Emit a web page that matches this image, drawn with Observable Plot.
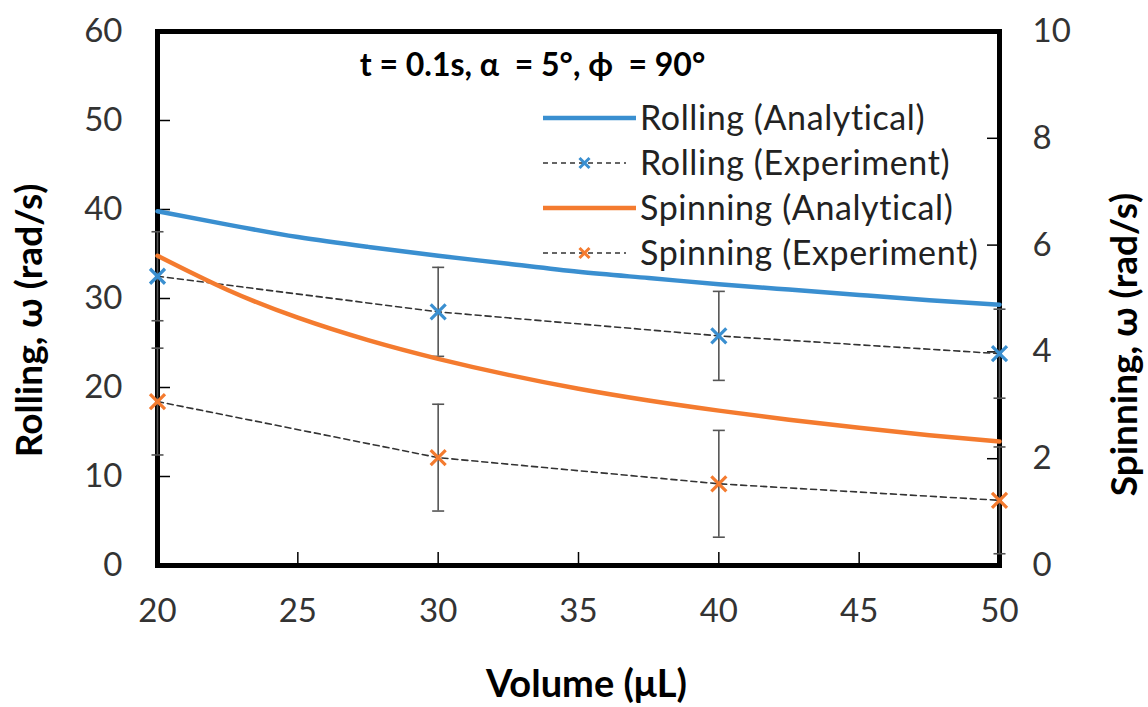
<!DOCTYPE html>
<html>
<head>
<meta charset="utf-8">
<script src="https://cdn.jsdelivr.net/npm/d3@7"></script>
<script src="https://cdn.jsdelivr.net/npm/@observablehq/plot@0.6"></script>
<style>
  body { margin: 0; background: #fff; }
  #wrap { position: relative; width: 1148px; height: 707px; font-family: Lato, "Open Sans", sans-serif; }
  #legend { position: absolute; left: 0; top: 0; pointer-events: none; }
</style>
</head>
<body>
<div id="wrap"></div>
<script>
// ---- data ----
const volumeCurve = [20, 22.5, 25, 27.5, 30, 32.5, 35, 37.5, 40, 42.5, 45, 47.5, 50];
const rollingAnalytical = [39.8, 38.3, 36.9, 35.8, 34.8, 33.9, 33.0, 32.3, 31.6, 31.0, 30.4, 29.8, 29.3]; // left axis, rad/s
const spinningAnalytical = [5.8, 5.16, 4.64, 4.22, 3.87, 3.57, 3.31, 3.09, 2.9, 2.73, 2.58, 2.44, 2.32]; // right axis, rad/s

const volumeExp = [20, 30, 40, 50];
const rollingExp = [32.5, 28.5, 25.8, 23.8];
const rollingErr = [5, 5, 5, 5];
const spinningExp = [3.07, 2.02, 1.53, 1.22];
const spinningErr = [1, 1, 1, 1];

const xTicks = [20, 25, 30, 35, 40, 45, 50];
const leftTicks = [0, 10, 20, 30, 40, 50, 60];
const rightTicks = [0, 2, 4, 6, 8, 10];
const RIGHT_TO_LEFT = 6; // right axis 0–10 maps onto left axis 0–60

const seriesNames = ["Rolling (Analytical)", "Rolling (Experiment)", "Spinning (Analytical)", "Spinning (Experiment)"];
const annotation = "t = 0.1s, α  = 5°, ϕ  = 90°";

const BLUE = "#3a8fd0";
const ORANGE = "#f47b2f";
const FONT = "Lato, 'Open Sans', sans-serif";

// ---- tables ----
const rollA = volumeCurve.map((v, i) => ({v, y: rollingAnalytical[i]}));
const spinA = volumeCurve.map((v, i) => ({v, y: spinningAnalytical[i] * RIGHT_TO_LEFT}));
const rollE = volumeExp.map((v, i) => ({v, y: rollingExp[i], lo: rollingExp[i] - rollingErr[i], hi: rollingExp[i] + rollingErr[i]}));
const spinE = volumeExp.map((v, i) => ({v, y: spinningExp[i] * RIGHT_TO_LEFT,
  lo: (spinningExp[i] - spinningErr[i]) * RIGHT_TO_LEFT, hi: (spinningExp[i] + spinningErr[i]) * RIGHT_TO_LEFT}));

const capSymbol = { draw(ctx, size) { const r = 6; ctx.moveTo(-r, 0); ctx.lineTo(r, 0); } };
const crossSymbol = { draw(ctx, size) { const r = 7.5; ctx.moveTo(-r, -r); ctx.lineTo(r, r); ctx.moveTo(-r, r); ctx.lineTo(r, -r); } };

function errorMarks(data) {
  return [
    Plot.ruleX(data, {x: "v", y1: "lo", y2: "hi", stroke: "#555", strokeWidth: 1.6}),
    Plot.dot(data, {x: "v", y: "lo", symbol: capSymbol, stroke: "#555", strokeWidth: 1.6, r: 6}),
    Plot.dot(data, {x: "v", y: "hi", symbol: capSymbol, stroke: "#555", strokeWidth: 1.6, r: 6})
  ];
}

const chart = Plot.plot({
  width: 1148,
  height: 707,
  marginLeft: 157,
  marginRight: 149,
  marginTop: 31,
  marginBottom: 142,
  style: {fontFamily: FONT, background: "#fff", color: "#333"},
  x: {domain: [20, 50]},
  y: {domain: [0, 60]},
  marks: [
    Plot.frame({stroke: "#000", strokeWidth: 5}),
    // axes with inward ticks
    Plot.axisX({ticks: xTicks, tickSize: -13, tickPadding: 46, fontSize: 33, label: null, tickFormat: d => String(d), stroke: "#000", strokeWidth: 1.5}),
    Plot.axisY({anchor: "left", ticks: leftTicks, tickSize: -13, tickPadding: 48, fontSize: 33, label: null, tickFormat: d => String(d), stroke: "#000", strokeWidth: 1.5}),
    Plot.axisY({anchor: "right", ticks: rightTicks.map(d => d * RIGHT_TO_LEFT), tickSize: -13, tickPadding: 46, fontSize: 33, label: null,
      tickFormat: d => String(d / RIGHT_TO_LEFT), stroke: "#000", strokeWidth: 1.5}),
    // experiment dashed lines
    Plot.line(rollE, {x: "v", y: "y", stroke: "#333", strokeWidth: 1.6, strokeDasharray: "6,4"}),
    Plot.line(spinE, {x: "v", y: "y", stroke: "#333", strokeWidth: 1.6, strokeDasharray: "6,4"}),
    ...errorMarks(rollE),
    ...errorMarks(spinE),
    // analytical curves
    Plot.line(rollA, {x: "v", y: "y", stroke: BLUE, strokeWidth: 4.5, curve: "natural"}),
    Plot.line(spinA, {x: "v", y: "y", stroke: ORANGE, strokeWidth: 4.5, curve: "natural"}),
    // experiment markers
    Plot.dot(rollE, {x: "v", y: "y", symbol: crossSymbol, stroke: BLUE, strokeWidth: 3.2, r: 7}),
    Plot.dot(spinE, {x: "v", y: "y", symbol: crossSymbol, stroke: ORANGE, strokeWidth: 3.2, r: 7}),
    // titles
    Plot.text([annotation], {frameAnchor: "top", dx: -46, dy: 22, fontSize: 32, fontWeight: "bold", fill: "#000"}),
    Plot.text(["Volume (μL)"], {frameAnchor: "bottom", textAnchor: "middle", lineAnchor: "middle", dx: 8, dy: 119, fontSize: 38, fontWeight: "bold", fill: "#000"}),
    Plot.text(["Rolling, ω (rad/s)"], {frameAnchor: "left", textAnchor: "middle", lineAnchor: "middle", dx: -127, dy: 22, rotate: -90, fontSize: 37, fontWeight: "bold", fill: "#000"}),
    Plot.text(["Spinning, ω (rad/s)"], {frameAnchor: "right", textAnchor: "middle", lineAnchor: "middle", dx: 126, dy: 46, rotate: -90, fontSize: 37, fontWeight: "bold", fill: "#000"})
  ]
});

const wrap = document.getElementById("wrap");
wrap.appendChild(chart);

// ---- legend overlay ----
const legend = d3.select(wrap).append("svg")
  .attr("id", "legend").attr("width", 1148).attr("height", 707);
const lx0 = 543, lx1 = 636, ly0 = 118, lstep = 45;
const legendStyles = [
  {stroke: BLUE, dash: null, width: 4.5, marker: null},
  {stroke: "#333", dash: "5,4", width: 1.5, marker: BLUE},
  {stroke: ORANGE, dash: null, width: 4.5, marker: null},
  {stroke: "#333", dash: "5,4", width: 1.5, marker: ORANGE}
];
seriesNames.forEach((name, i) => {
  const s = legendStyles[i];
  const y = ly0 + i * lstep;
  const g = legend.append("g");
  if (s.marker) {
    g.append("rect").attr("x", lx0).attr("y", y - 10).attr("width", lx1 - lx0).attr("height", 20).attr("fill", "#fff");
  }
  g.append("line").attr("x1", lx0).attr("x2", s.marker ? lx1 - 10 : lx1).attr("y1", y).attr("y2", y)
    .attr("stroke", s.stroke).attr("stroke-width", s.width).attr("stroke-dasharray", s.dash);
  if (s.marker) {
    const cx = (lx0 + lx1 - 10) / 2, r = 5;
    g.append("path").attr("d", `M${cx - r},${y - r}L${cx + r},${y + r}M${cx - r},${y + r}L${cx + r},${y - r}`)
      .attr("stroke", s.marker).attr("stroke-width", 3).attr("fill", "none");
  }
  g.append("text").attr("x", lx1 + 4).attr("y", y).attr("dy", "0.35em")
    .attr("font-family", FONT).attr("font-size", 34).attr("letter-spacing", 0.6).attr("fill", "#222").text(name);
});
</script>
</body>
</html>
